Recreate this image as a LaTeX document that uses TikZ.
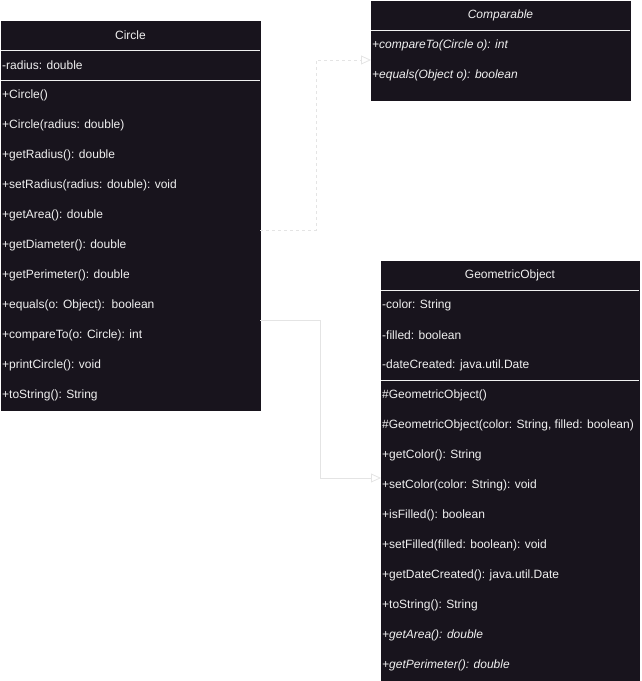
\documentclass[tikz,border=0pt]{standalone}
\usepackage{fontspec}
\setmainfont{Liberation Sans}
\usetikzlibrary{arrows.meta}
\definecolor{boxfill}{HTML}{18141D}
\definecolor{boxtext}{HTML}{F0F0F0}
\definecolor{linkgray}{HTML}{E4E4E4}
\begin{document}
\begin{tikzpicture}[x=1pt,y=-1pt,
  classbox/.style={draw=boxfill, fill=boxfill, inner sep=0pt, anchor=north west},
  row/.style={text=boxtext, inner sep=0pt, anchor=west, font=\fontsize{12}{14}\selectfont},
  rowit/.style={row, font=\fontsize{12}{14}\selectfont\itshape},
  title/.style={row, anchor=center},
  titleit/.style={rowit, anchor=center},
  divider/.style={draw=boxtext, line width=1pt},
  realize/.style={draw=linkgray, line width=0.8pt, dash pattern=on 3pt off 3pt,
    -{Triangle[open, length=10pt, width=9pt, fill=white]}},
  extend/.style={draw=linkgray, line width=0.8pt,
    -{Triangle[open, length=10pt, width=9pt, fill=white]}}]
\useasboundingbox (0,0) rectangle (642,681);

% ---- Circle ----
\node[classbox, minimum width=259pt, minimum height=389pt] (circle) at (1,21) {};
\draw[divider] (1,50) -- (260,50);
\draw[divider] (1,80) -- (260,80);
\node[title] (circleT) at (130.5,35) {Circle};
\node[row] (cf1) at (2,65) {-radius: double};
\node[row] (cm1) at (2,95) {+Circle()};
\node[row] (cm2) at (2,125) {+Circle(radius: double)};
\node[row] (cm3) at (2,155) {+getRadius(): double};
\node[row] (cm4) at (2,185) {+setRadius(radius: double): void};
\node[row] (cm5) at (2,215) {+getArea(): double};
\node[row] (cm6) at (2,245) {+getDiameter(): double};
\node[row] (cm7) at (2,275) {+getPerimeter(): double};
\node[row] (cm8) at (2,305) {+equals(o: Object):\ \ boolean};
\node[row] (cm9) at (2,335) {+compareTo(o: Circle): int};
\node[row] (cm10) at (2,365) {+printCircle(): void};
\node[row] (cm11) at (2,395) {+toString(): String};

% ---- Comparable ----
\node[classbox, minimum width=259pt, minimum height=99pt] (comparable) at (371,1) {};
\draw[divider] (371,30) -- (630,30);
\node[titleit] (cmpT) at (500.5,15) {Comparable};
\node[rowit] (cmp1) at (372,45) {+compareTo(Circle o): int};
\node[rowit] (cmp2) at (372,75) {+equals(Object o): boolean};

% ---- GeometricObject ----
\node[classbox, minimum width=258pt, minimum height=420pt] (geo) at (381,261) {};
\draw[divider] (381,290) -- (639,290);
\draw[divider] (381,380) -- (639,380);
\node[title] (geoT) at (510,275) {GeometricObject};
\node[row] (gf1) at (382,305) {-color: String};
\node[row] (gf2) at (382,335) {-filled: boolean};
\node[row] (gf3) at (382,365) {-dateCreated: java.util.Date};
\node[row] (gm1) at (382,395) {\#GeometricObject()};
\node[row] (gm2) at (382,425) {\#GeometricObject(color: String, filled: boolean)};
\node[row] (gm3) at (382,455) {+getColor(): String};
\node[row] (gm4) at (382,485) {+setColor(color: String): void};
\node[row] (gm5) at (382,515) {+isFilled(): boolean};
\node[row] (gm6) at (382,545) {+setFilled(filled: boolean): void};
\node[row] (gm7) at (382,575) {+getDateCreated(): java.util.Date};
\node[row] (gm8) at (382,605) {+toString(): String};
\node[rowit] (gm9) at (382,635) {+getArea(): double};
\node[rowit] (gm10) at (382,665) {+getPerimeter(): double};

% ---- relations ----
\coordinate (realizeOut) at (circle.east |- 0,230);
\coordinate (realizeIn) at (comparable.west |- 0,60);
\draw[realize] (realizeOut) -- (316,230) -- (316,60) -- (realizeIn);

\coordinate (extendOut) at (circle.east |- 0,320);
\coordinate (extendIn) at (geo.west |- 0,478);
\draw[extend] (extendOut) -- (320,320) -- (320,478) -- (extendIn);
\end{tikzpicture}
\end{document}
